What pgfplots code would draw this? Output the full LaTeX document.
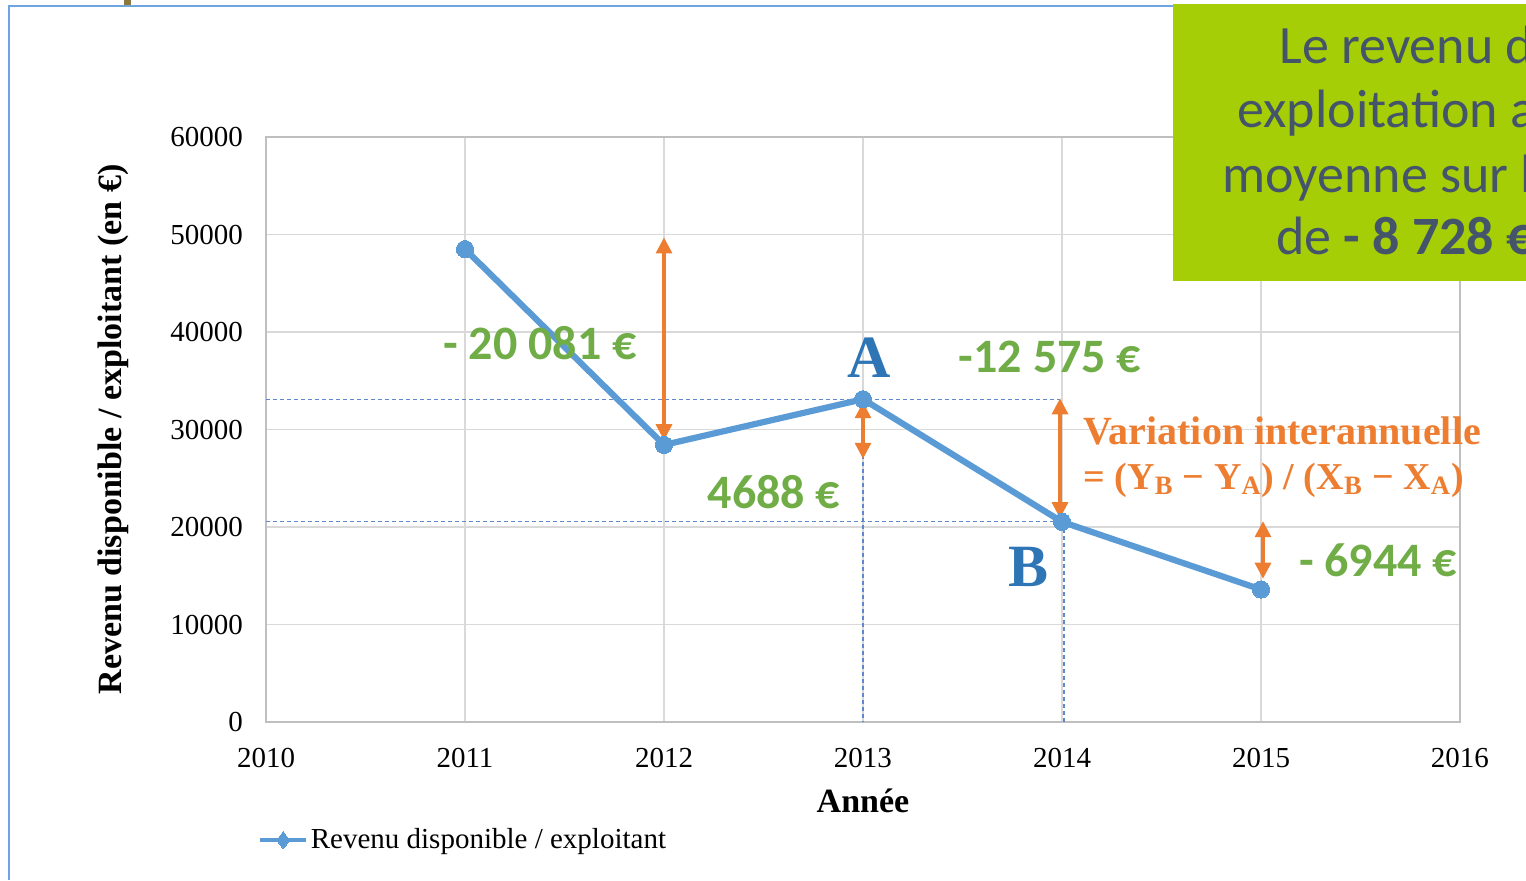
\documentclass[border=0pt]{standalone}
\usepackage{fontspec}
\setmainfont{Liberation Serif}
\newfontfamily\calibri{Carlito}
\usepackage{pgfplots}
\pgfplotsset{compat=1.18}
\usetikzlibrary{arrows.meta}
\definecolor{lineblue}{HTML}{5B9BD5}
\definecolor{framebl}{RGB}{110,165,225}
\definecolor{gridgray}{HTML}{D9D9D9}
\definecolor{axgray}{HTML}{BFBFBF}
\definecolor{dashbl}{RGB}{95,135,205}
\definecolor{orangec}{HTML}{ED7D31}
\definecolor{greent}{HTML}{70AD47}
\definecolor{letterbl}{HTML}{2E75B6}
\definecolor{greenbox}{RGB}{166,206,6}
\definecolor{slate}{HTML}{44546A}
\definecolor{brownmark}{RGB}{140,120,60}
\begin{document}
\begin{tikzpicture}
\path[use as bounding box] (0,0) rectangle (763pt,440pt);
\draw[framebl, line width=1pt] (4.5pt,0) -- (4.5pt,437pt) -- (763pt,437pt);
\fill[brownmark] (62pt,437.5pt) rectangle (65.5pt,440pt);
\begin{axis}[
  at={(133pt,79pt)}, anchor=south west,
  scale only axis, width=597pt, height=292.5pt,
  xmin=2010, xmax=2016, ymin=0, ymax=60000,
  xtick={2010,2011,...,2016},
  ytick={0,10000,...,60000},
  scaled y ticks=false,
  grid=major,
  major grid style={gridgray, line width=0.75pt},
  axis line style={axgray, line width=0.8pt},
  major tick length=0pt,
  /pgf/number format/assume math mode=true,
  /pgf/number format/1000 sep={},
  tick label style={font=\fontsize{14.5}{16}\selectfont},
  yticklabel style={xshift=-8pt},
  xticklabel style={yshift=-9.5pt},
  xlabel={Année},
  ylabel={Revenu disponible / exploitant (en €)},
  label style={font=\bfseries\fontsize{17}{19}\selectfont},
  x label style={at={(axis description cs:0.5,-0.135)}, anchor=center},
  y label style={at={(axis description cs:-0.128,0.5)}, anchor=center},
  clip=false,
  legend style={at={(axis description cs:-0.007,-0.202)}, anchor=west, draw=none, fill=none, inner sep=0pt, font=\fontsize{14.5}{16}\selectfont, nodes={inner sep=1.2pt}},
  legend image code/.code={\draw[mark repeat=2,mark phase=2,#1] plot coordinates {(0pt,0pt) (11.5pt,0pt) (23pt,0pt)};},
]
% dashed guides
\draw[dashbl, line width=0.55pt, dash pattern=on 2pt off 1.5pt] (axis cs:2010,33107) -- (axis cs:2013.99,33107);
\draw[dashbl, line width=0.55pt, dash pattern=on 2pt off 1.5pt] (axis cs:2010,20532) -- (axis cs:2014,20532);
\draw[dashbl, line width=0.55pt, dash pattern=on 2pt off 1.5pt] (axis cs:2013,33107) -- (axis cs:2013,0);
\draw[dashbl, line width=0.55pt, dash pattern=on 2pt off 1.5pt] (axis cs:2014.01,20532) -- (axis cs:2014.01,0);
% data
\addplot[lineblue, line width=3.1pt, mark=*, mark size=4.3pt, mark options={fill=lineblue, draw=lineblue, line width=0pt}, forget plot] coordinates {
(2011,48500) (2012,28419) (2013,33107) (2014,20532) (2015,13588)};
\addlegendimage{lineblue, line width=2.2pt, mark=diamond*, mark size=4.3pt, mark options={fill=lineblue, draw=lineblue, line width=0pt}}
\addlegendentry{Revenu disponible / exploitant}
% arrows
\draw[orangec, line width=1.6pt, {Triangle[width=8pt,length=8pt]}-{Triangle[width=8pt,length=8pt]}] (axis cs:2012,49700) -- (axis cs:2012,28900);
\draw[orangec, line width=1.6pt, {Triangle[width=8pt,length=8pt]}-{Triangle[width=8pt,length=8pt]}] (axis cs:2013,32800) -- (axis cs:2013,27000);
\draw[orangec, line width=1.6pt, {Triangle[width=8pt,length=8pt]}-{Triangle[width=8pt,length=8pt]}] (axis cs:2013.99,33200) -- (axis cs:2013.99,20900);
\draw[orangec, line width=1.6pt, {Triangle[width=8pt,length=8pt]}-{Triangle[width=8pt,length=8pt]}] (axis cs:2015.01,20600) -- (axis cs:2015.01,14700);
% green values
\node[greent, font=\calibri\bfseries\fontsize{24}{24}\selectfont, inner sep=0] at (axis cs:2011.377,38870) {- 20 081 €};
\node[greent, font=\calibri\bfseries\fontsize{24}{24}\selectfont, inner sep=0] at (axis cs:2012.553,23590) {4688 €};
\node[greent, font=\calibri\bfseries\fontsize{24}{24}\selectfont, inner sep=0] at (axis cs:2013.94,37436) {-12 575 €};
\node[greent, font=\calibri\bfseries\fontsize{24}{24}\selectfont, inner sep=0] at (axis cs:2015.588,16615) {- 6944 €};
% letters
\node[letterbl, font=\bfseries\fontsize{30}{30}\selectfont, inner sep=0] at (axis cs:2013.03,37333) {A};
\node[letterbl, font=\bfseries\fontsize{30}{30}\selectfont, inner sep=0] at (axis cs:2013.83,15897) {B};
% orange text
\node[orangec, font=\bfseries\fontsize{20}{20}\selectfont, inner sep=0, anchor=west] at (axis cs:2014.106,29846) {Variation interannuelle};
\node[orangec, font=\bfseries\fontsize{19}{19}\selectfont, inner sep=0, anchor=west] at (axis cs:2014.106,24820) {= (Y\textsubscript{B} − Y\textsubscript{A}) / (X\textsubscript{B} − X\textsubscript{A})};
\end{axis}
\fill[greenbox] (586.5pt,299.5pt) rectangle (763pt,438pt);
\begin{scope}
\clip (586.5pt,299.5pt) rectangle (763pt,438pt);
\begin{scope}[every node/.style={anchor=base west, inner sep=0, text=slate, font=\calibri\fontsize{27}{27}\selectfont}]
\node at (639.5pt,408pt) {Le revenu d};
\node at (618.5pt,376pt) {exploitation a};
\node at (611pt,343.5pt) {moyenne sur l};
\node at (638pt,312.5pt) {de \textbf{- 8 728 €}};
\end{scope}
\end{scope}
\end{tikzpicture}
\end{document}
